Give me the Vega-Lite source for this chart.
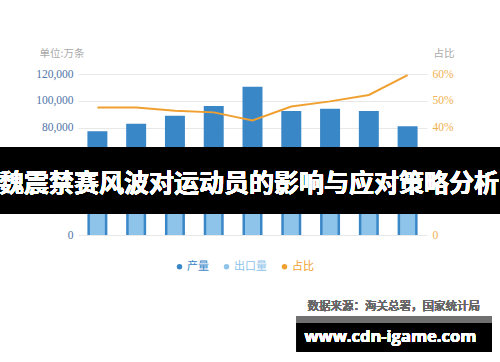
{
  "$schema": "https://vega.github.io/schema/vega-lite/v6.json",
  "width": 349,
  "height": 161,
  "autosize": {"type": "none"},
  "padding": {"left": 78, "top": 74, "right": 73, "bottom": 127},
  "background": "white",
  "config": {
    "view": {"stroke": null},
    "font": "Liberation Serif, Noto Sans CJK SC"
  },
  "data": {
    "values": [
      {"year": "2010", "production": 77300, "export": 36720, "ratio": 0.475},
      {"year": "2011", "production": 83000, "export": 39430, "ratio": 0.475},
      {"year": "2012", "production": 88900, "export": 41160, "ratio": 0.463},
      {"year": "2013", "production": 96100, "export": 43920, "ratio": 0.457},
      {"year": "2014", "production": 110500, "export": 47180, "ratio": 0.427},
      {"year": "2015", "production": 92400, "export": 44260, "ratio": 0.479},
      {"year": "2016", "production": 94100, "export": 46860, "ratio": 0.498},
      {"year": "2017", "production": 92400, "export": 48230, "ratio": 0.522},
      {"year": "2018", "production": 81000, "export": 48280, "ratio": 0.596}
    ]
  },
  "layer": [
    {
      "mark": {"type": "bar"},
      "encoding": {
        "x": {
          "field": "year", "type": "ordinal", "title": null,
          "scale": {"paddingInner": 0.485, "paddingOuter": 0.2425},
          "axis": {"labelAngle": 0, "labelColor": "#999999", "labelFontSize": 11.5, "labelFont": "Liberation Serif", "ticks": false, "domainColor": "#cccccc", "labelPadding": 4, "grid": false}
        },
        "y": {
          "field": "production", "type": "quantitative", "title": "单位:万条",
          "scale": {"domain": [0, 120000], "nice": false},
          "axis": {
            "values": [0, 20000, 40000, 60000, 80000, 100000, 120000],
            "format": ",d", "labelColor": "#4f74a8", "labelFontSize": 11.5, "labelFont": "Liberation Serif",
            "ticks": false, "domain": false, "grid": true, "gridColor": "#e8e8e8", "labelPadding": 5,
            "titleAngle": 0, "titleAlign": "left", "titleBaseline": "middle", "titleX": -39, "titleY": -21,
            "titleColor": "#aaaaaa", "titleFontSize": 10.5, "titleFontWeight": "normal", "titleFont": "Noto Sans CJK SC"
          }
        },
        "color": {
          "datum": "产量", "type": "nominal",
          "scale": {"domain": ["产量", "出口量", "占比"], "range": ["#3a87c8", "#8ec3ea", "#f0a030"]},
          "legend": {
            "orient": "none", "legendX": 96, "legendY": 187, "direction": "horizontal", "title": null,
            "symbolType": "circle", "symbolSize": 30, "labelFontSize": 11, "labelFont": "Noto Sans CJK SC",
            "labelOffset": 2, "columnPadding": 12,
            "labelColor": {"expr": "datum.label == '产量' ? '#3a87c8' : datum.label == '出口量' ? '#8ec3ea' : '#f0a030'"}
          }
        }
      }
    },
    {
      "mark": {"type": "bar", "size": 15},
      "encoding": {
        "x": {"field": "year", "type": "ordinal", "axis": null},
        "y": {"field": "export", "type": "quantitative", "axis": null, "scale": {"domain": [0, 120000], "nice": false}},
        "color": {"datum": "出口量", "type": "nominal", "legend": null}
      }
    },
    {
      "mark": {"type": "line", "color": "#f0a030", "strokeWidth": 2},
      "encoding": {
        "x": {"field": "year", "type": "ordinal", "axis": null},
        "y": {
          "field": "ratio", "type": "quantitative", "title": "占比",
          "scale": {"domain": [0, 0.6], "nice": false},
          "axis": {
            "orient": "right", "values": [0, 0.1, 0.2, 0.3, 0.4, 0.5, 0.6],
            "labelExpr": "datum.value == 0 ? '0' : format(datum.value, '.0%')",
            "labelColor": "#f0b050", "labelFontSize": 11.5, "labelFont": "Liberation Serif",
            "grid": false, "ticks": false, "domain": false, "labelPadding": 5,
            "titleAngle": 0, "titleAlign": "left", "titleBaseline": "middle", "titleX": 6, "titleY": -21,
            "titleColor": "#aaaaaa", "titleFontSize": 10.5, "titleFontWeight": "normal", "titleFont": "Noto Sans CJK SC"
          }
        }
      }
    },
    {
      "mark": {"type": "rect", "color": "#000000", "opacity": 0.62},
      "encoding": {
        "x": {"datum": "2010", "type": "ordinal", "bandPosition": -4.5, "axis": null},
        "x2": {"datum": "2018", "bandPosition": 5.3},
        "y": {"datum": 65360, "type": "quantitative", "scale": {"domain": [0, 120000], "nice": false}, "axis": null},
        "y2": {"datum": 15650}
      }
    },
    {
      "mark": {"type": "text", "text": "魏震禁赛风波对运动员的影响与应对策略分析", "color": "white", "fontSize": 25, "fontWeight": "bold", "font": "Noto Sans CJK SC", "align": "center", "baseline": "middle"},
      "encoding": {
        "x": {"datum": "2014", "type": "ordinal", "bandPosition": 0.33, "axis": null},
        "y": {"datum": 38380, "type": "quantitative", "scale": {"domain": [0, 120000], "nice": false}, "axis": null}
      }
    },
    {
      "mark": {"type": "text", "text": "数据来源：海关总署，国家统计局", "color": "#666666", "fontSize": 11.5, "font": "Noto Sans CJK SC", "align": "right", "baseline": "middle"},
      "encoding": {
        "x": {"datum": "2018", "type": "ordinal", "bandPosition": 4.13, "axis": null},
        "y": {"datum": -53660, "type": "quantitative", "scale": {"domain": [0, 120000], "nice": false}, "axis": null}
      }
    },
    {
      "mark": {"type": "rect", "color": "#707070"},
      "encoding": {
        "x": {"datum": "2016", "type": "ordinal", "bandPosition": -1.17, "axis": null},
        "x2": {"datum": "2018", "bandPosition": 4.71},
        "y": {"datum": -60370, "type": "quantitative", "scale": {"domain": [0, 120000], "nice": false}, "axis": null},
        "y2": {"datum": -65590}
      }
    },
    {
      "mark": {"type": "rect", "color": "#000000"},
      "encoding": {
        "x": {"datum": "2016", "type": "ordinal", "bandPosition": -1.17, "axis": null},
        "x2": {"datum": "2018", "bandPosition": 4.71},
        "y": {"datum": -65590, "type": "quantitative", "scale": {"domain": [0, 120000], "nice": false}, "axis": null},
        "y2": {"datum": -86980}
      }
    },
    {
      "mark": {"type": "text", "text": "www.cdn-igame.com", "color": "white", "fontSize": 16.5, "fontWeight": "bold", "font": "Open Sans", "align": "center", "baseline": "middle"},
      "encoding": {
        "x": {"datum": "2018", "type": "ordinal", "bandPosition": -0.36, "axis": null},
        "y": {"datum": -75800, "type": "quantitative", "scale": {"domain": [0, 120000], "nice": false}, "axis": null}
      }
    }
  ],
  "resolve": {"scale": {"y": "independent"}}
}
